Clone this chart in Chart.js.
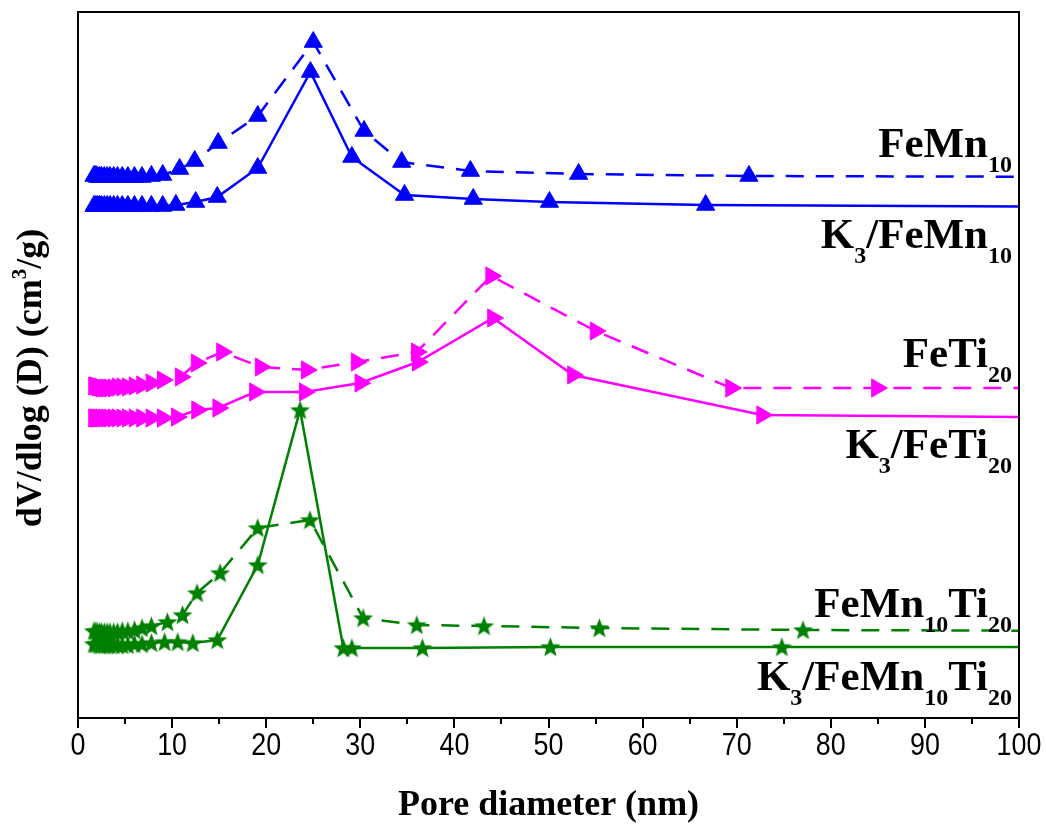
<!DOCTYPE html>
<html lang="en">
<head>
<meta charset="UTF-8">
<title>Pore size distribution</title>
<script src="https://cdn.jsdelivr.net/npm/chart.js"></script>
<style>
  html, body { margin: 0; padding: 0; background: #fff; }
  #wrap { width: 1046px; height: 829px; }
</style>
</head>
<body>
<div id="wrap"><canvas id="psd" width="1046" height="829"></canvas></div>
<script>
// pore diameter (nm) / dV/dlog(D) (cm3/g, curves stacked with offsets)
const dFeMn10 = [1.7, 1.9, 2.1, 2.3, 2.5, 2.8, 3.1, 3.4, 3.8, 4.2, 4.7, 5.3, 6.0, 6.8, 7.8, 9.0, 10.8, 12.4, 14.9, 19.1, 25.0, 30.4, 34.4, 41.7, 53.2, 71.3, 112];
const vFeMn10 = [5.42, 5.42, 5.41, 5.41, 5.41, 5.41, 5.41, 5.41, 5.41, 5.41, 5.41, 5.41, 5.41, 5.41, 5.42, 5.43, 5.49, 5.57, 5.75, 6.02, 6.76, 5.87, 5.56, 5.47, 5.44, 5.42, 5.41];

const dK3FeMn10 = [1.7, 1.9, 2.1, 2.3, 2.5, 2.8, 3.1, 3.4, 3.8, 4.2, 4.7, 5.3, 6.0, 6.8, 7.8, 9.0, 10.4, 12.5, 14.8, 19.1, 24.7, 29.1, 34.7, 42.0, 50.1, 66.7, 112];
const vK3FeMn10 = [5.12, 5.12, 5.12, 5.12, 5.12, 5.12, 5.12, 5.12, 5.12, 5.12, 5.12, 5.12, 5.12, 5.12, 5.12, 5.12, 5.13, 5.16, 5.21, 5.50, 6.46, 5.61, 5.23, 5.19, 5.16, 5.13, 5.11];

const dFeTi20 = [1.7, 1.9, 2.1, 2.3, 2.5, 2.8, 3.1, 3.4, 3.8, 4.2, 4.7, 5.3, 6.0, 6.8, 7.8, 9.0, 10.9, 12.6, 15.3, 19.4, 24.3, 29.6, 36.0, 43.9, 55.0, 69.4, 84.9, 112];
const vFeTi20 = [3.32, 3.32, 3.31, 3.31, 3.30, 3.30, 3.30, 3.30, 3.30, 3.31, 3.31, 3.31, 3.32, 3.33, 3.35, 3.38, 3.41, 3.55, 3.66, 3.51, 3.48, 3.56, 3.66, 4.42, 3.87, 3.30, 3.30, 3.30];

const dK3FeTi20 = [1.7, 1.9, 2.1, 2.3, 2.5, 2.8, 3.1, 3.4, 3.8, 4.2, 4.7, 5.3, 6.0, 6.8, 7.8, 9.0, 10.5, 12.65, 14.9, 18.8, 24.1, 30.0, 36.1, 44.1, 52.6, 72.7, 112];
const vK3FeTi20 = [3.00, 3.00, 3.00, 3.00, 3.00, 3.00, 3.00, 3.00, 3.00, 3.00, 3.00, 3.00, 3.00, 3.00, 3.00, 3.00, 3.01, 3.08, 3.10, 3.26, 3.26, 3.35, 3.56, 4.00, 3.43, 3.03, 3.00];

const dFeMn10Ti20 = [1.7, 1.9, 2.1, 2.3, 2.5, 2.8, 3.1, 3.4, 3.8, 4.2, 4.7, 5.3, 6.0, 6.8, 7.8, 9.5, 11.1, 12.65, 15.1, 19.1, 24.65, 30.3, 36.0, 43.15, 55.4, 77.05, 112];
const vFeMn10Ti20 = [0.87, 0.87, 0.86, 0.86, 0.86, 0.86, 0.86, 0.86, 0.86, 0.86, 0.87, 0.87, 0.88, 0.90, 0.92, 0.96, 1.03, 1.25, 1.45, 1.90, 1.98, 1.00, 0.93, 0.92, 0.90, 0.88, 0.87];

const dK3FeMn10Ti20 = [1.7, 1.9, 2.1, 2.3, 2.5, 2.8, 3.1, 3.4, 3.8, 4.2, 4.7, 5.3, 6.0, 6.8, 7.8, 9.2, 10.6, 12.2, 14.8, 19.1, 23.6, 28.2, 29.1, 36.6, 50.2, 74.8, 112];
const vK3FeMn10Ti20 = [0.74, 0.74, 0.74, 0.73, 0.73, 0.73, 0.73, 0.73, 0.73, 0.73, 0.73, 0.73, 0.74, 0.74, 0.75, 0.76, 0.76, 0.75, 0.78, 1.53, 3.08, 0.70, 0.70, 0.70, 0.71, 0.71, 0.71];

const xTicks = [0, 10, 20, 30, 40, 50, 60, 70, 80, 90, 100];

// curve labels: [text, 0 = normal | 1 = subscript], baseline y in data units
const curveLabels = [
  { parts: [['FeMn', 0], ['10', 1]], y: 5.61 },
  { parts: [['K', 0], ['3', 1], ['/FeMn', 0], ['10', 1]], y: 4.70 },
  { parts: [['FeTi', 0], ['20', 1]], y: 3.51 },
  { parts: [['K', 0], ['3', 1], ['/FeTi', 0], ['20', 1]], y: 2.60 },
  { parts: [['FeMn', 0], ['10', 1], ['Ti', 0], ['20', 1]], y: 1.01 },
  { parts: [['K', 0], ['3', 1], ['/FeMn', 0], ['10', 1], ['Ti', 0], ['20', 1]], y: 0.28 }
];

const SERIF = "'Liberation Serif', 'Times New Roman', serif";
const SANS = "'Liberation Sans', Arial, sans-serif";

function pts(xs, ys) {
  return xs.map((x, i) => ({ x: x, y: ys[i] }));
}

// filled five-point star used as marker
function starImage(color, r) {
  const c = document.createElement('canvas');
  const s = Math.ceil(r * 2 + 2);
  c.width = s; c.height = s;
  const g = c.getContext('2d');
  g.translate(s / 2, s / 2 + r * 0.08);
  g.beginPath();
  for (let i = 0; i < 10; i++) {
    const rad = i % 2 ? r * 0.42 : r;
    const a = -Math.PI / 2 + i * Math.PI / 5;
    g.lineTo(Math.cos(a) * rad, Math.sin(a) * rad);
  }
  g.closePath();
  g.fillStyle = color;
  g.fill();
  return c;
}

const BLUE = '#0000ff', PINK = '#ff00ff', GREEN = '#008000';
const greenStar = starImage(GREEN, 10.5);

function series(label, xs, ys, color, dashed, marker) {
  const ds = {
    label: label,
    data: pts(xs, ys),
    borderColor: color,
    backgroundColor: color,
    borderWidth: 2.5,
    borderDash: dashed ? [18, 12] : [],
    tension: 0,
    pointBorderWidth: 1,
    pointBorderColor: color,
    pointBackgroundColor: color
  };
  if (marker === 'up') {
    ds.pointStyle = 'triangle'; ds.pointRadius = 10.5;
  } else if (marker === 'right') {
    ds.pointStyle = 'triangle'; ds.pointRadius = 10.5; ds.pointRotation = 90;
  } else {
    ds.pointStyle = greenStar; ds.pointRadius = 10;
  }
  return ds;
}

function richWidth(ctx, parts, big, small) {
  let w = 0;
  parts.forEach(([t, k]) => {
    ctx.font = 'bold ' + (k ? small : big) + 'px ' + SERIF;
    w += ctx.measureText(t).width;
  });
  return w;
}

function drawRich(ctx, parts, x, y, big, small, align) {
  let cx = align === 'right' ? x - richWidth(ctx, parts, big, small)
         : align === 'center' ? x - richWidth(ctx, parts, big, small) / 2 : x;
  parts.forEach(([t, k]) => {
    ctx.font = 'bold ' + (k ? small : big) + 'px ' + SERIF;
    const dy = k === 1 ? 15 : k === 2 ? -15 : 0;
    ctx.fillText(t, cx, y + dy);
    cx += ctx.measureText(t).width;
  });
}

const decor = {
  id: 'decor',
  afterDraw(chart) {
    const { ctx, chartArea: a, scales: { x, y } } = chart;
    ctx.save();
    // frame
    ctx.strokeStyle = '#000';
    ctx.lineWidth = 2;
    ctx.strokeRect(a.left, a.top, a.right - a.left, a.bottom - a.top);
    // minor ticks
    for (let v = 5; v < 100; v += 10) {
      const px = Math.round(x.getPixelForValue(v));
      ctx.beginPath();
      ctx.moveTo(px, a.bottom);
      ctx.lineTo(px, a.bottom + 6);
      ctx.stroke();
    }
    // narrow tick labels
    ctx.fillStyle = '#000';
    ctx.textAlign = 'center';
    ctx.textBaseline = 'middle';
    ctx.font = '32px ' + SANS;
    xTicks.forEach(v => {
      ctx.save();
      ctx.translate(x.getPixelForValue(v), 746);
      ctx.scale(0.84, 1);
      ctx.fillText(String(v), 0, 0);
      ctx.restore();
    });
    // curve labels
    ctx.textAlign = 'left';
    ctx.textBaseline = 'alphabetic';
    curveLabels.forEach(l => {
      drawRich(ctx, l.parts, a.right - 7, y.getPixelForValue(l.y), 43, 24, 'right');
    });
    // y axis title
    ctx.translate(41, 378);
    ctx.rotate(-Math.PI / 2);
    drawRich(ctx, [['dV/dlog (D) (cm', 0], ['3', 2], ['/g)', 0]], 0, 0, 36, 21, 'center');
    ctx.restore();
  }
};

new Chart(document.getElementById('psd'), {
  type: 'line',
  data: {
    datasets: [
      series('FeMn10', dFeMn10, vFeMn10, BLUE, true, 'up'),
      series('K3/FeMn10', dK3FeMn10, vK3FeMn10, BLUE, false, 'up'),
      series('FeTi20', dFeTi20, vFeTi20, PINK, true, 'right'),
      series('K3/FeTi20', dK3FeTi20, vK3FeTi20, PINK, false, 'right'),
      series('FeMn10Ti20', dFeMn10Ti20, vFeMn10Ti20, GREEN, true, 'star'),
      series('K3/FeMn10Ti20', dK3FeMn10Ti20, vK3FeMn10Ti20, GREEN, false, 'star')
    ]
  },
  options: {
    responsive: false,
    devicePixelRatio: 1,
    animation: false,
    layout: { padding: { left: 78, right: 27, top: 12, bottom: 0 } },
    plugins: { legend: { display: false }, tooltip: { enabled: false } },
    scales: {
      x: {
        type: 'linear',
        min: 0,
        max: 100,
        afterBuildTicks: s => { s.ticks = xTicks.map(v => ({ value: v })); },
        afterFit: s => { s.height = 111; },
        grid: { display: true, drawOnChartArea: false, drawTicks: true, tickLength: 10, color: '#000', lineWidth: 2 },
        border: { display: false },
        ticks: { display: false },
        title: {
          display: true,
          text: 'Pore diameter (nm)',
          color: '#000',
          padding: { top: 0, bottom: 2 },
          font: { family: SERIF, size: 36, weight: 'bold' }
        }
      },
      y: { display: false, min: 0, max: 7.06 }
    }
  },
  plugins: [decor]
});
</script>
</body>
</html>
